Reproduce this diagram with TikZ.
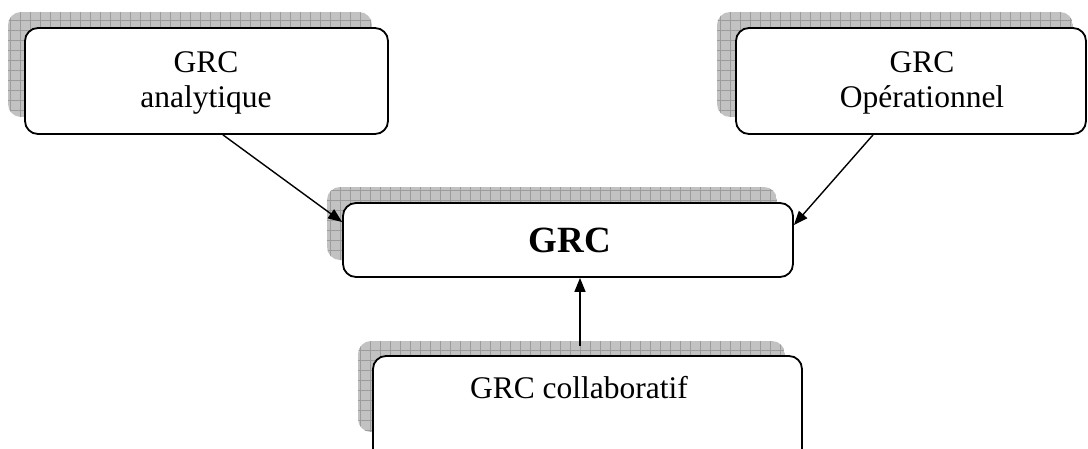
\documentclass[tikz,border=0pt]{standalone}
\usepackage{fontspec}
\setmainfont{Liberation Serif}
\usetikzlibrary{arrows.meta}

\tikzset{
  panel/.style={draw, line width=1.8pt, rounded corners=13pt, fill=white, inner sep=0pt},
  shadowfill/.style={fill=gray!48},
  shadowgrid/.style={draw=gray!78, line width=0.6pt},
  label/.style={anchor=base, inner sep=0pt, font=\fontsize{31.5}{35}\selectfont},
  biglabel/.style={anchor=base, inner sep=0pt, font=\fontsize{37}{40}\selectfont\bfseries},
  arr/.style={line width=1.4pt, -{Triangle[length=14pt,width=11pt]}}
}

% hatched drop shadow behind a panel: corners (x1,y1) and (x2,y2)
\newcommand\dropshade[4]{%
  \begin{scope}
    \clip[rounded corners=13pt] (#1,#2) rectangle (#3,#4);
    \fill[shadowfill] (#1,#2) rectangle (#3,#4);
    \draw[shadowgrid, step=10pt] (#1,#2) grid (#3,#4);
  \end{scope}}

\begin{document}
\begin{tikzpicture}[x=1pt, y=-1pt]
  \useasboundingbox (0,0) rectangle (1088,448);
  \clip (0,0) rectangle (1088,448);

  % shadows
  \dropshade{8}{12}{372}{117}
  \dropshade{717}{12}{1073}{117}
  \dropshade{327}{187}{777}{260}
  \dropshade{358}{341}{785}{432}

  % panels
  \node[panel, minimum width=363pt, minimum height=106pt] (ana) at (206.5,81) {};
  \node[panel, minimum width=350pt, minimum height=106pt] (ope) at (911,81) {};
  \node[panel, minimum width=450pt, minimum height=74pt] (grc) at (568,240) {};
  \node[panel, minimum width=429pt, minimum height=114pt] (col) at (587.5,413) {};

  % texts
  \node[label] (anaA) at (206,72.5) {GRC};
  \node[label] (anaB) at (206,107.5) {analytique};
  \node[label] (opeA) at (922,72.5) {GRC};
  \node[label] (opeB) at (922,107.5) {Opérationnel};
  \node[biglabel] (grcT) at (570,252) {GRC};
  \node[label] (colT) at (579,398) {GRC collaboratif};

  % connectors
  \coordinate (c3) at ([xshift=-7.5pt,yshift=9pt]col.north);
  \draw[arr] ([xshift=16.5pt]ana.south) -- ([yshift=18pt]grc.west);
  \draw[arr] ([xshift=-38pt]ope.south) -- ([yshift=15pt]grc.east);
  \draw[arr] (c3) -- (c3 |- grc.south);
\end{tikzpicture}
\end{document}
